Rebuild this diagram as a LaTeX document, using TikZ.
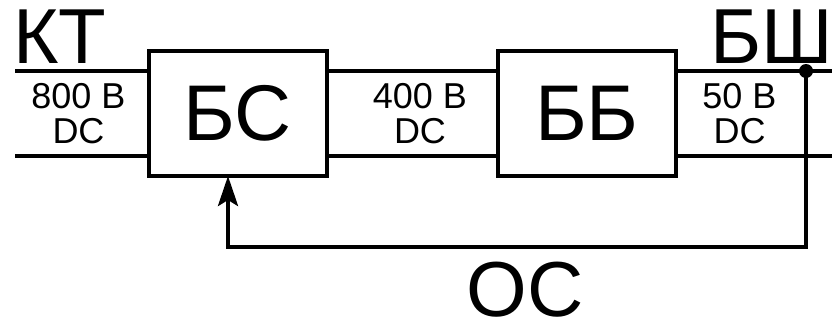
\documentclass[tikz,border=0pt]{standalone}
\usepackage{fontspec}
\setmainfont{Liberation Sans}
\usetikzlibrary{positioning, arrows.meta}

\begin{document}
\begin{tikzpicture}[
  x=0.5pt, y=-0.5pt,
  every node/.style={inner sep=0pt, outer sep=0pt},
  block/.style ={draw, line width=2pt, minimum width=89pt, minimum height=62.5pt,
                 font=\fontsize{39.5}{41}\selectfont},
  wire/.style  ={line width=2pt},
  junc/.style  ={circle, fill=black, minimum size=7pt},
  arr/.style   ={line width=2pt, -{Stealth[length=15pt, width=10pt, inset=3pt]}},
  big/.style   ={font=\fontsize{39}{41}\selectfont},
  volt/.style  ={font=\fontsize{18}{17.5}\selectfont, align=center},
]

%% ---- frame ----
\useasboundingbox (0,0) rectangle (836,327);

%% ---- blocks ----
\node[block] (bs) at (238,113.5) {БС};
\node[block] (bb) at (587,113.5) {ББ};

%% ---- bus ends ----
\coordinate (ktT)  at (15,71);
\coordinate (ktB)  at (15,156);
\coordinate (bshT) at (832,71);
\coordinate (bshB) at (832,156);
\node[junc] (j) at (806,71) {};

%% ---- wires ----
\draw[wire] (ktT) -- (ktT -| bs.west);
\draw[wire] (ktB) -- (ktB -| bs.west);
\draw[wire] (ktT -| bs.east) -- (ktT -| bb.west);
\draw[wire] (ktB -| bs.east) -- (ktB -| bb.west);
\draw[wire] (ktT -| bb.east) -- (bshT);
\draw[wire] (ktB -| bb.east) -- (bshB);

%% ---- feedback ----
\coordinate (fbR) at (806,247);
\coordinate (fbL) at (228,247);
\draw[arr] (j.center) -- (fbR) -- (fbL) -- (fbL |- bs.south);

%% ---- labels ----
\node[big, anchor=base west] (kt)  at (13,63) {КТ};
\node[big, anchor=base east] (bsh) at (833,63) {БШ};
\node[big] (os) at (525,290) {ОС};
\node[volt] (v800) at (78.5,114) {800 В\\DC};
\node[volt] (v400) at (420,114)  {400 В\\DC};
\node[volt] (v50)  at (739.5,114) {50 В\\DC};

\end{tikzpicture}
\end{document}
